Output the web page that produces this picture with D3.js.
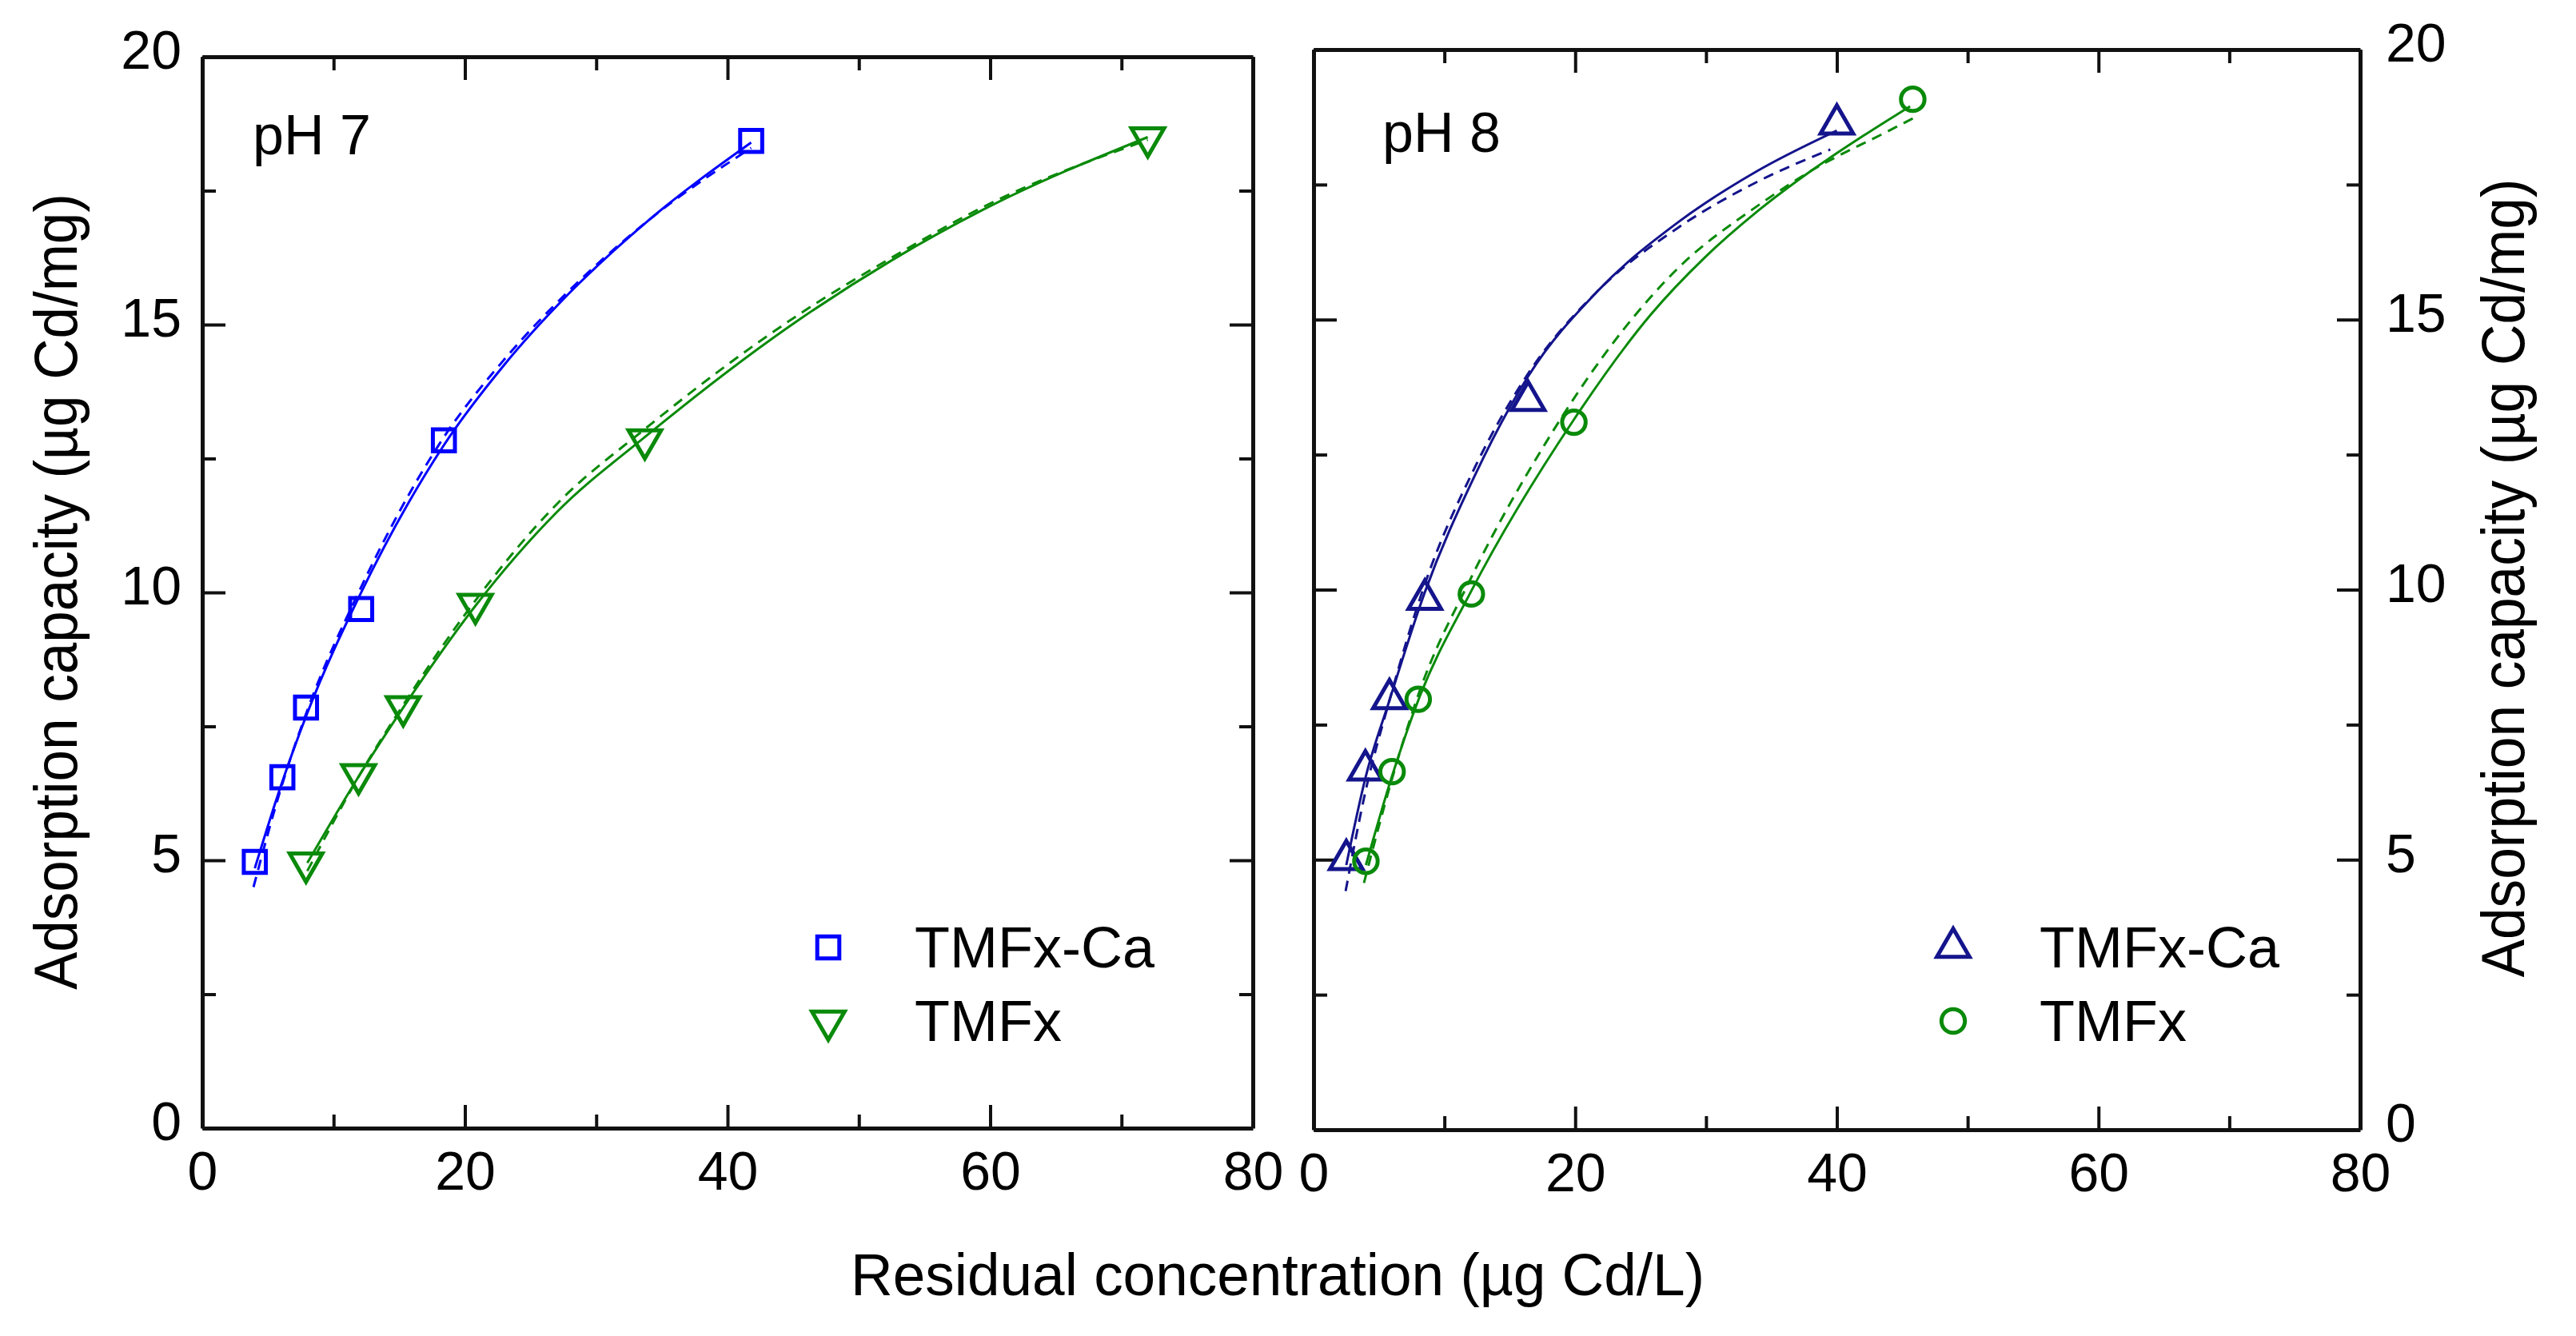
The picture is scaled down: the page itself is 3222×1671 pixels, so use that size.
<!DOCTYPE html>
<html>
<head>
<meta charset="utf-8">
<script src="https://cdn.jsdelivr.net/npm/d3@7"></script>
<style>
  body { margin: 0; background: #fff; }
  text { font-family: "Liberation Sans", Arial, sans-serif; fill: #000; }
</style>
</head>
<body>
<script>
// Tick values
const xMajorTicks = [0, 20, 40, 60, 80];
const xMinorTicks = [10, 30, 50, 70];
const yMajorTicks = [0, 5, 10, 15, 20];
const yMinorTicks = [2.5, 7.5, 12.5, 17.5];

// pH 7 measured points
const ph7CaX = [4.0, 6.1, 7.9, 12.1, 18.4, 41.8];
const ph7CaY = [4.97, 6.55, 7.85, 9.69, 12.84, 18.43];
const ph7X = [7.9, 11.9, 15.3, 20.8, 33.7, 72.0];
const ph7Y = [4.95, 6.6, 7.87, 9.78, 12.85, 18.49];

// pH 8 measured points
const ph8CaX = [2.5, 3.96, 5.8, 8.5, 16.4, 40.0];
const ph8CaY = [5.0, 6.66, 7.98, 9.82, 13.5, 18.62];
const ph8X = [4.0, 6.0, 8.0, 12.06, 19.9, 45.8];
const ph8Y = [4.97, 6.63, 7.97, 9.92, 13.1, 19.08];

// fitted curves (solid and dashed)
const ph7CaFitX = [4.0, 6.0, 8.0, 12.0, 18.4, 23.0, 28.0, 34.0, 41.8];
const ph7CaFitY = [4.85, 6.4, 7.75, 9.95, 12.75, 14.25, 15.6, 16.95, 18.4];
const ph7CaDashX = [3.9, 6.0, 8.0, 12.0, 18.4, 23.0, 28.0, 34.0, 41.8];
const ph7CaDashY = [4.5, 6.35, 7.8, 10.05, 12.9, 14.35, 15.65, 16.95, 18.3];
const ph7FitX = [8.0, 12.0, 15.3, 20.8, 27.0, 33.7, 45.5, 52.5, 59.5, 72.0];
const ph7FitY = [4.95, 6.6, 7.85, 9.75, 11.5, 12.9, 15.1, 16.2, 17.15, 18.5];
const ph7DashX = [8.0, 12.0, 15.3, 20.8, 27.0, 33.7, 45.5, 52.5, 59.5, 72.0];
const ph7DashY = [4.8, 6.6, 7.9, 9.85, 11.65, 13.05, 15.2, 16.25, 17.2, 18.45];

const ph8CaFitX = [2.5, 4.0, 5.8, 8.5, 12.3, 16.4, 21.8, 27.85, 33.9, 40.0];
const ph8CaFitY = [4.9, 6.55, 7.95, 9.95, 12.1, 13.95, 15.55, 16.8, 17.75, 18.5];
const ph8CaDashX = [2.45, 4.0, 5.8, 8.5, 12.3, 16.4, 21.8, 27.85, 33.9, 39.5];
const ph8CaDashY = [4.42, 6.3, 7.95, 10.1, 12.25, 14.0, 15.55, 16.7, 17.55, 18.15];
const ph8FitX = [4.0, 6.0, 8.0, 12.0, 19.9, 25.8, 29.9, 33.9, 38.0, 42.0, 45.6];
const ph8FitY = [4.9, 6.55, 7.95, 9.95, 13.15, 15.1, 16.15, 17.0, 17.75, 18.4, 18.95];
const ph8DashX = [3.85, 6.0, 8.0, 12.0, 17.7, 23.8, 27.85, 33.9, 38.0, 44.0, 46.0];
const ph8DashY = [4.57, 6.5, 8.05, 10.2, 12.7, 14.85, 15.95, 17.1, 17.75, 18.5, 18.75];

const legendLabels = ["TMFx-Ca", "TMFx"];

const blue = "#0000ff", navy = "#14148c", green = "#0a8a0a";

const svg = d3.select("body").append("svg")
  .attr("width", 3222)
  .attr("height", 1671);

const zip = (xs, ys) => xs.map((x, i) => [x, ys[i]]);

const panels = [
  {
    label: "pH 7", left: 253, right: 1567, top: 71, bottom: 1411, labelsRight: false,
    labelPos: [316, 193], legendX: 1036,
    series: [
      { pts: zip(ph7CaX, ph7CaY), fit: zip(ph7CaFitX, ph7CaFitY), dash: zip(ph7CaDashX, ph7CaDashY),
        color: blue, symbol: d3.symbolSquare, size: 760, rotate: 0 },
      { pts: zip(ph7X, ph7Y), fit: zip(ph7FitX, ph7FitY), dash: zip(ph7DashX, ph7DashY),
        color: green, symbol: d3.symbolTriangle, size: 720, rotate: 180 }
    ]
  },
  {
    label: "pH 8", left: 1643, right: 2952, top: 62, bottom: 1413, labelsRight: true,
    labelPos: [1729, 190], legendX: 2443,
    series: [
      { pts: zip(ph8CaX, ph8CaY), fit: zip(ph8CaFitX, ph8CaFitY), dash: zip(ph8CaDashX, ph8CaDashY),
        color: navy, symbol: d3.symbolTriangle, size: 720, rotate: 0 },
      { pts: zip(ph8X, ph8Y), fit: zip(ph8FitX, ph8FitY), dash: zip(ph8DashX, ph8DashY),
        color: green, symbol: d3.symbolCircle, size: 680, rotate: 0 }
    ]
  }
];

const majorLen = 29, minorLen = 17;

panels.forEach(p => {
  const x = d3.scaleLinear().domain([0, 80]).range([p.left, p.right]);
  const y = d3.scaleLinear().domain([0, 20]).range([p.bottom, p.top]);
  const g = svg.append("g");

  // axes on all four sides, ticks pointing inward
  function side(axisFn, scale, pos, major, minor, withLabels, pad, vertical) {
    const gMaj = g.append("g").attr("transform", pos)
      .call(axisFn(scale).tickValues(major).tickSizeInner(-majorLen).tickSizeOuter(0)
        .tickPadding(pad).tickFormat(withLabels ? d3.format("d") : ""));
    gMaj.select(".domain").attr("stroke-width", 5).attr("stroke", "#111");
    gMaj.selectAll(".tick line").attr("stroke-width", 4).attr("stroke", "#111");
    gMaj.selectAll(".tick text").style("font-size", "68px")
      .style("font-family", "'Liberation Sans', Arial, sans-serif");
    if (vertical) gMaj.selectAll(".tick text").attr("dy", "0.22em");
    const gMin = g.append("g").attr("transform", pos)
      .call(axisFn(scale).tickValues(minor).tickSizeInner(-minorLen).tickSizeOuter(0).tickFormat(""));
    gMin.select(".domain").remove();
    gMin.selectAll(".tick line").attr("stroke-width", 4).attr("stroke", "#111");
  }
  side(d3.axisBottom, x, `translate(0,${p.bottom})`, xMajorTicks, xMinorTicks, true, 29, false);
  side(d3.axisTop, x, `translate(0,${p.top})`, xMajorTicks, xMinorTicks, false, 0, false);
  side(d3.axisLeft, y, `translate(${p.left},0)`, yMajorTicks, yMinorTicks, !p.labelsRight, 26, true);
  side(d3.axisRight, y, `translate(${p.right},0)`, yMajorTicks, yMinorTicks, p.labelsRight, 32, true);

  // panel label
  g.append("text").attr("x", p.labelPos[0]).attr("y", p.labelPos[1])
    .style("font-size", "70px").text(p.label);

  const line = d3.line().x(d => x(d[0])).y(d => y(d[1])).curve(d3.curveMonotoneX);

  p.series.forEach((s, i) => {
    g.append("path").attr("d", line(s.fit)).attr("fill", "none")
      .attr("stroke", s.color).attr("stroke-width", 3);
    g.append("path").attr("d", line(s.dash)).attr("fill", "none")
      .attr("stroke", s.color).attr("stroke-width", 3).attr("stroke-dasharray", "13,9");

    const sym = d3.symbol().type(s.symbol).size(s.size);
    g.selectAll(null).data(s.pts).enter().append("path")
      .attr("d", sym)
      .attr("transform", d => `translate(${x(d[0])},${y(d[1])}) rotate(${s.rotate})`)
      .attr("fill", "none").attr("stroke", s.color).attr("stroke-width", 5);

    // legend row
    const ly = 1185 + i * 92;
    g.append("path").attr("d", sym)
      .attr("transform", `translate(${p.legendX},${ly}) rotate(${s.rotate})`)
      .attr("fill", "none").attr("stroke", s.color).attr("stroke-width", 5);
    g.append("text").attr("x", p.legendX + 108).attr("y", ly + 25)
      .style("font-size", "72px").text(legendLabels[i]);
  });
});

// axis titles
svg.append("text").attr("x", 1598).attr("y", 1620).attr("text-anchor", "middle")
  .attr("textLength", 1068).attr("lengthAdjust", "spacingAndGlyphs")
  .style("font-size", "74px").text("Residual concentration (µg Cd/L)");

svg.append("text").attr("transform", "translate(96,740) rotate(-90)").attr("text-anchor", "middle")
  .attr("textLength", 996).attr("lengthAdjust", "spacingAndGlyphs")
  .style("font-size", "76px").text("Adsorption capacity (µg Cd/mg)");

svg.append("text").attr("transform", "translate(3157,723) rotate(-90)").attr("text-anchor", "middle")
  .attr("textLength", 999).attr("lengthAdjust", "spacingAndGlyphs")
  .style("font-size", "76px").text("Adsorption capacity (µg Cd/mg)");
</script>
</body>
</html>
